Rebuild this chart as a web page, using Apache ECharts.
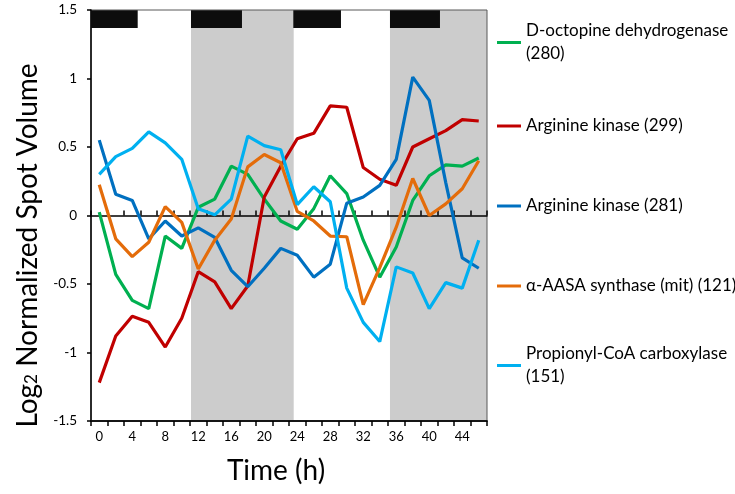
<!DOCTYPE html>
<html>
<head>
<meta charset="utf-8">
<script src="https://cdn.jsdelivr.net/npm/echarts@6/dist/echarts.min.js"></script>
<style>html,body{margin:0;padding:0;background:#fff}#c{width:735px;height:494px}</style>
</head>
<body>
<div id="c"></div>
<script>
// Time points (h)
const hours = [0,2,4,6,8,10,12,14,16,18,20,22,24,26,28,30,32,34,36,38,40,42,44,46];
// Series names
const seriesNames = ['D-octopine dehydrogenase (280)','Arginine kinase (299)','Arginine kinase (281)','α-AASA synthase (mit) (121)','Propionyl-CoA carboxylase (151)'];
// Values (log2 normalized spot volume)
const octopineDH = [0.025,-0.43,-0.62,-0.68,-0.15,-0.24,0.06,0.12,0.36,0.30,0.12,-0.04,-0.10,0.05,0.29,0.16,-0.18,-0.45,-0.23,0.11,0.29,0.37,0.36,0.42];
const arginineK299 = [-1.22,-0.88,-0.735,-0.78,-0.96,-0.75,-0.41,-0.485,-0.68,-0.515,0.135,0.36,0.56,0.60,0.80,0.79,0.35,0.265,0.22,0.50,0.56,0.62,0.70,0.69];
const arginineK281 = [0.55,0.155,0.11,-0.17,-0.04,-0.15,-0.09,-0.16,-0.40,-0.52,-0.385,-0.24,-0.29,-0.45,-0.355,0.09,0.135,0.22,0.41,1.01,0.84,0.24,-0.31,-0.385];
const aasaSynthase = [0.225,-0.17,-0.30,-0.195,0.065,-0.05,-0.39,-0.18,-0.025,0.355,0.445,0.385,0.03,-0.04,-0.15,-0.155,-0.65,-0.38,-0.085,0.27,0.0,0.085,0.195,0.40];
const propionylCoA = [0.30,0.43,0.49,0.61,0.53,0.41,0.05,0.005,0.12,0.58,0.51,0.48,0.08,0.21,0.10,-0.53,-0.78,-0.92,-0.375,-0.42,-0.68,-0.49,-0.53,-0.18];
// Dark (shaded) periods and black top bars, in hours
const darkPeriods = [[11.12,23.57],[35.24,47]];
const blackBars = [[-1,4.66],[11.12,17.3],[23.52,29.3],[35.24,41.3]];
// Y axis range
const yMin = -1.5, yMax = 1.5, yStep = 0.5;

const FONT = 'Lato';
const colors = ['#00B050','#C00000','#0070C0','#E46C0A','#00B0F0'];
const allValues = [octopineDH, arginineK299, arginineK281, aasaSynthase, propionylCoA];
const legendCenters = [44, 126, 206, 286, 367];
const twoLine = [true,false,false,false,true];

const chart = echarts.init(document.getElementById('c'), null, {renderer:'canvas'});

const areaData = [];
darkPeriods.forEach(p => areaData.push([{xAxis:p[0], yAxis:yMin, itemStyle:{color:'#cccccc'}},{xAxis:p[1], yAxis:yMax}]));
blackBars.forEach(p => areaData.push([{xAxis:p[0], yAxis:1.368, itemStyle:{color:'#0d0d0d'}},{xAxis:p[1], yAxis:yMax}]));

const series = [{
  type:'line', xAxisIndex:3, yAxisIndex:0, data:[], z:1, silent:true,
  markArea:{silent:true, data:areaData, itemStyle:{opacity:1}}
}];
allValues.forEach((vals,i)=>{
  series.push({
    name: seriesNames[i], type:'line', xAxisIndex:0, yAxisIndex:0,
    data: vals, showSymbol:false, symbol:'none', z:4,
    lineStyle:{color:colors[i], width:3.2}, itemStyle:{color:colors[i]}
  });
});

const legends = seriesNames.map((n,i)=>{
  const lh = 23;
  return {
    data:[n], orient:'vertical', left:497, padding:0,
    top: twoLine[i] ? legendCenters[i] - 1.5 - lh*1.5 : legendCenters[i] - 1.5 - lh/2 + 1.5,
    itemWidth:24, itemHeight:3, itemGap:0, icon:'rect', selectedMode:false,
    formatter: name => twoLine[i] ? name.replace(/ \((\d+)\)$/, '\n($1)') : name,
    textStyle:{fontFamily:FONT, fontSize:17, color:'#000', lineHeight:lh, padding: twoLine[i] ? [lh,0,0,0] : 0}
  };
});

const catAxisBase = {type:'category', data:hours, boundaryGap:true, gridIndex:0, position:'bottom', splitLine:{show:false}};

chart.setOption({
  animation:false,
  textStyle:{fontFamily:FONT},
  grid:{left:91, right:248, top:10, bottom:73, show:true, borderColor:'#595959', borderWidth:1, z:3},
  legend: legends,
  xAxis:[
    Object.assign({}, catAxisBase, {
      z:3,
      axisLine:{show:true, onZero:true, lineStyle:{color:'#000', width:1.5}},
      axisTick:{show:true, interval:0, inside:true, length:5, lineStyle:{color:'#000', width:1.5}},
      axisLabel:{show:false}
    }),
    Object.assign({}, catAxisBase, {
      z:3,
      axisLine:{show:true, onZero:false, lineStyle:{color:'#404040', width:1.5}},
      axisTick:{show:false},
      axisLabel:{show:true, interval:1, margin:9, fontFamily:FONT, fontSize:13, color:'#000'},
      name:'Time (h)', nameLocation:'middle', nameGap:36,
      nameTextStyle:{fontFamily:FONT, fontSize:28, color:'#000', padding:[0,26,0,0]}
    }),
    Object.assign({}, catAxisBase, {
      z:3,
      axisLine:{show:true, onZero:true, lineStyle:{color:'#000', width:1.5}},
      axisTick:{show:true, interval:0, inside:false, length:5, lineStyle:{color:'#000', width:1.5}},
      axisLabel:{show:false}
    }),
    {type:'value', min:-1, max:47, show:false, gridIndex:0}
  ],
  yAxis:[{
    type:'value', min:yMin, max:yMax, interval:yStep, z:3,
    axisLine:{show:true, onZero:false, lineStyle:{color:'#000', width:1.5}},
    axisTick:{show:true, inside:false, length:4, lineStyle:{color:'#000', width:1.5}},
    splitLine:{show:false},
    axisLabel:{margin:14, fontFamily:FONT, fontSize:13.5, color:'#000'},
    name:'{n|Log}{s|2}{n| Normalized Spot Volume}', nameLocation:'middle', nameRotate:90, nameGap:40,
    nameTextStyle:{fontFamily:FONT, fontSize:28, color:'#000', padding:[0,60,0,0],
      rich:{n:{fontFamily:FONT, fontSize:28, color:'#000', padding:[0,0,7,0]}, s:{fontFamily:FONT, fontSize:17, color:'#000'}}}
  }],
  series: series
});
</script>
</body>
</html>
